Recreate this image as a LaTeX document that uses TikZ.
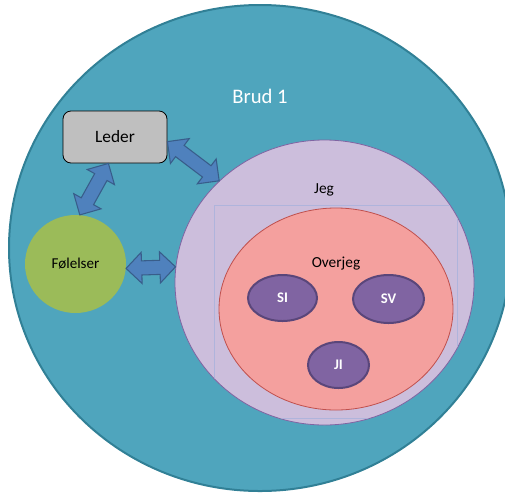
\documentclass[tikz,border=0pt]{standalone}
\usepackage{fontspec}
\setmainfont{Carlito}
\usepackage{tikz}
\usetikzlibrary{calc}
\usetikzlibrary{positioning}
\usetikzlibrary{shapes.geometric, shapes.arrows}

\definecolor{brudfill}{RGB}{79,165,189}
\definecolor{brudline}{RGB}{49,128,150}
\definecolor{jegfill}{RGB}{204,190,220}
\definecolor{jegline}{RGB}{128,100,162}
\definecolor{overfill}{RGB}{244,160,158}
\definecolor{overline}{RGB}{192,80,77}
\definecolor{partfill}{RGB}{128,100,162}
\definecolor{partline}{RGB}{90,70,122}
\definecolor{felfill}{RGB}{155,187,89}
\definecolor{lederfill}{RGB}{191,191,191}
\definecolor{pilfill}{RGB}{79,129,189}
\definecolor{pilline}{RGB}{56,93,138}
\definecolor{boxline}{RGB}{175,180,220}

\tikzset{
  part/.style={ellipse, draw=partline, line width=1.5pt, fill=partfill, text=white, font=\bfseries\fontsize{11}{13}\selectfont, inner sep=0pt},
  fatarrow/.style={double arrow, draw=pilline, line width=0.8pt, fill=pilfill, inner xsep=0pt, inner ysep=4.9pt, minimum width=0pt, double arrow head extend=6.4pt},
}

\newcommand{\tykkpil}[2]{%
  \path let \p1=(#1), \p2=(#2), \n1={atan2(\y2-\y1,\x2-\x1)}, \n2={veclen(\x2-\x1,\y2-\y1)} in
    node[fatarrow, minimum height=\n2, rotate=-\n1] at ($(#1)!0.5!(#2)$) {};}

\begin{document}
\begin{tikzpicture}[x=0.75pt,y=0.75pt,yscale=-1,xscale=1]
            \useasboundingbox (0,0) rectangle (505,493);

            %Shape: Ellipse [id:brud]
            \node[ellipse, draw=brudline, line width=1.5pt, fill=brudfill, minimum width=376.5pt, minimum height=364.5pt, inner sep=0pt] (brud) at (260,248) {};
            %Shape: Ellipse [id:jeg]
            \node[ellipse, draw=jegline, line width=0.6pt, fill=jegfill, minimum width=224.25pt, minimum height=213.75pt, inner sep=0pt] (jeg) at (324.5,282.5) {};
            %Shape: Rectangle [id:ramme]
            \begin{scope}
              \clip (324.5,282.5) ellipse (149 and 142);
              \draw [boxline, line width=0.3pt] (214,205) rectangle (457,418);
            \end{scope}
            %Shape: Ellipse [id:overjeg]
            \node[ellipse, draw=overline, line width=0.6pt, fill=overfill, minimum width=175.5pt, minimum height=151.5pt, inner sep=0pt] (overjeg) at (336,309) {};
            %Shape: Ellipse [id:si]
            \node[part, minimum width=51.75pt, minimum height=34.5pt] (si) at (282.5,298) {SI};
            %Shape: Ellipse [id:sv]
            \node[part, minimum width=53.25pt, minimum height=36pt] (sv) at (388.5,299) {SV};
            %Shape: Ellipse [id:ji]
            \node[part, minimum width=45.75pt, minimum height=34.5pt] (ji) at (338.5,365) {JI};

            %Shape: Rounded Rectangle [id:leder]
            \node[draw=black, line width=0.6pt, fill=lederfill, rounded corners=6pt, minimum width=78pt, minimum height=39pt, font=\fontsize{13}{15}\selectfont] (leder) at (115,137) {Leder};
            %Shape: Ellipse [id:felelser]
            \node[ellipse, fill=felfill, minimum width=75.75pt, minimum height=73.5pt, inner sep=0pt, font=\fontsize{11.3}{13}\selectfont] (felelser) at (75.5,264) {Følelser};

            %Double Arrows
            \tykkpil{leder.-104}{felelser.85}
            \tykkpil{leder.-5}{jeg.136}
            \tykkpil{felelser.-5}{jeg.174}

            % Text Node
            \node[text=white, font=\fontsize{15.5}{18}\selectfont] (brudtxt) at (260,96) {Brud 1};
            % Text Node
            \node[font=\fontsize{11.5}{13}\selectfont] (jegtxt) at (324,190) {Jeg};
            % Text Node
            \node[font=\fontsize{11.5}{13}\selectfont] (overtxt) at (336,264) {Overjeg};

\end{tikzpicture}
\end{document}
